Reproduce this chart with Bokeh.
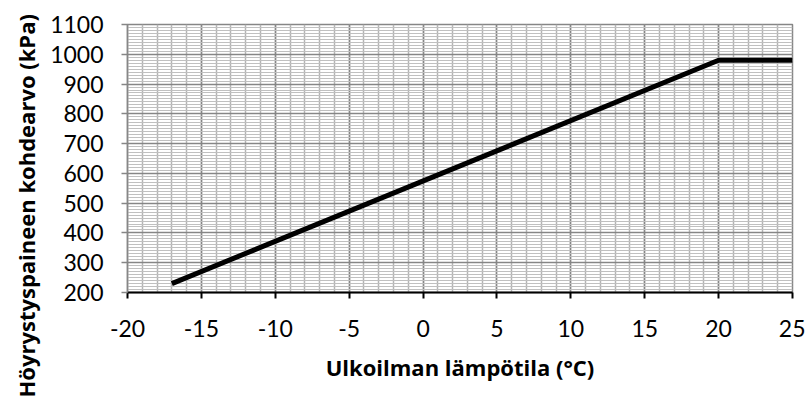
from bokeh.plotting import figure
from bokeh.models import SingleIntervalTicker, Range1d, Title
from bokeh.embed import file_html
from bokeh.resources import INLINE

# Data
temps = [-17, 20, 25]
pressures = [230, 980, 980]
x_ticks = [-20, -15, -10, -5, 0, 5, 10, 15, 20, 25]
x_title = "Ulkoilman lämpötila (°C)"
y_title = "Höyrystyspaineen kohdearvo (kPa)"

p = figure(width=805, height=403, output_backend="svg", toolbar_location=None,
           x_range=Range1d(-20, 25), y_range=Range1d(200, 1100),
           min_border_left=127, min_border_right=13, min_border_top=24, min_border_bottom=111)

p.background_fill_color = "white"
p.border_fill_color = "white"
p.outline_line_color = "#868686"
p.outline_line_width = 1.5

xt = SingleIntervalTicker(interval=5, num_minor_ticks=5)
yt = SingleIntervalTicker(interval=100, num_minor_ticks=10)
p.xaxis.ticker = xt
p.yaxis.ticker = yt
p.xgrid.ticker = xt
p.ygrid.ticker = yt
p.xaxis.major_label_overrides = {t: str(t) for t in x_ticks}

p.xgrid.grid_line_color = "#868686"
p.xgrid.grid_line_width = 1.5
p.ygrid.grid_line_color = "#868686"
p.ygrid.grid_line_width = 1.5
p.xgrid.minor_grid_line_color = "#b4b4b4"
p.xgrid.minor_grid_line_width = 1.5
p.ygrid.minor_grid_line_color = "#c0c0c0"
p.ygrid.minor_grid_line_width = 1

for ax in (p.xaxis, p.yaxis):
    ax.minor_tick_line_color = None
    ax.major_tick_in = 0
    ax.major_tick_out = 6
    ax.major_label_text_font = "Lato"
    ax.major_label_text_font_size = "23px"
    ax.major_label_text_color = "black"

p.xaxis.axis_line_color = "black"
p.xaxis.axis_line_width = 2
p.xaxis.major_tick_line_color = "black"
p.xaxis.major_tick_line_width = 2
p.xaxis.major_label_standoff = 21
p.xaxis.axis_label = x_title
p.xaxis.axis_label_text_font = "Open Sans"
p.xaxis.axis_label_text_font_style = "bold"
p.xaxis.axis_label_text_font_size = "22px"
p.xaxis.axis_label_text_color = "black"
p.xaxis.axis_label_standoff = 12

p.yaxis.axis_line_color = "#868686"
p.yaxis.axis_line_width = 1.5
p.yaxis.major_tick_line_color = "#868686"
p.yaxis.major_tick_line_width = 1.5
p.yaxis.major_label_standoff = 18

p.line(temps, pressures, line_color="black", line_width=5)

t = Title(text=y_title, align="left", offset=-105, standoff=14,
          text_font="Open Sans", text_font_style="bold", text_font_size="22px",
          text_color="black")
p.add_layout(t, "left")

open("out.html", "w").write(file_html(p, INLINE))
